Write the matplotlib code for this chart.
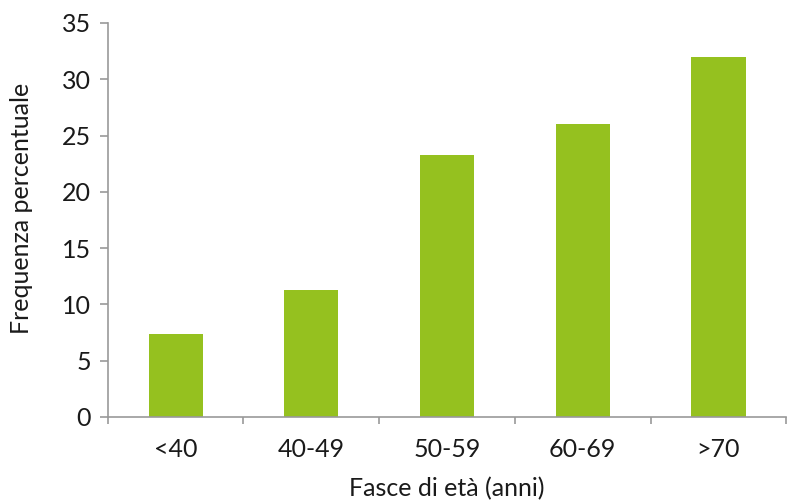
import matplotlib
matplotlib.use("Agg")
import matplotlib.pyplot as plt
import numpy as np

categories = ["<40", "40-49", "50-59", "60-69", ">70"]
values = [7.4, 11.3, 23.3, 26.0, 32.0]

plt.rcParams['font.family'] = ['Lato', 'DejaVu Sans']

fig = plt.figure(figsize=(7.87, 5.0), dpi=100)
ax = fig.add_axes([0.137, 0.166, 0.862, 0.788])
x = np.arange(len(categories))
ax.bar(x, values, width=0.4, color="#95C11F")
ax.set_xlim(-0.5, len(categories) - 0.5)
ax.set_ylim(0, 35)
ax.set_yticks(range(0, 36, 5))
ax.set_xticks(x)
ax.set_xticklabels(categories)
ax.set_xticks(np.arange(-0.5, len(categories) + 0.5, 1), minor=True)
fs = 18
ax.tick_params(axis='x', which='major', length=0, pad=15, labelsize=fs, colors='#1a1a1a')
ax.tick_params(axis='x', which='minor', length=5, color='#999999', width=1.2, direction='out')
ax.tick_params(axis='y', length=6, color='#999999', width=1.2, labelsize=fs, labelcolor='#1a1a1a', pad=6)
for s in ['top', 'right']:
    ax.spines[s].set_visible(False)
for s in ['left', 'bottom']:
    ax.spines[s].set_color('#999999')
    ax.spines[s].set_linewidth(1.2)
ax.set_ylabel("Frequenza percentuale", fontsize=fs, color='#1a1a1a', va='center')
ax.yaxis.set_label_coords(-0.127, 0.53)
ax.set_xlabel("Fasce di età (anni)", fontsize=fs, color='#1a1a1a', va='center')
ax.xaxis.set_label_coords(0.5, -0.183)
fig.savefig("out.png", dpi=100)
